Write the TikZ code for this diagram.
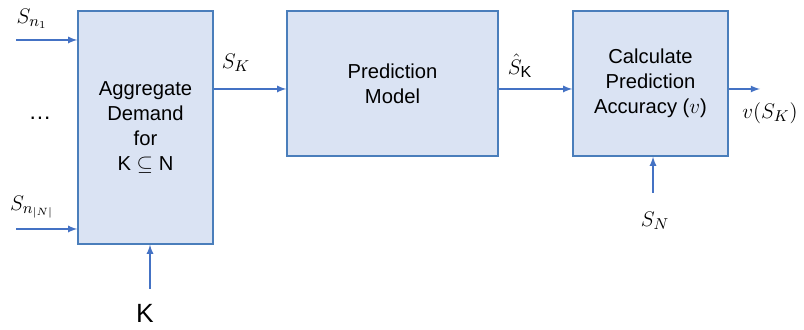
\documentclass[tikz,border=0pt]{standalone}
\usepackage{fontspec}
\setmainfont{Liberation Sans}
\usepackage{amsmath}
\usetikzlibrary{positioning}

\definecolor{boxfill}{HTML}{DAE3F3}
\definecolor{boxline}{HTML}{4A7EBB}
\definecolor{arrowline}{HTML}{4472C4}

\tikzset{
  block/.style={draw=boxline, fill=boxfill, line width=0.8pt, align=center,
    font=\fontsize{11.5}{14.2}\selectfont, inner sep=0pt},
  flow/.style={->, draw=arrowline, line width=0.8pt},
  lbl/.style={inner sep=0pt, font=\fontsize{13}{15}\selectfont}
}

\begin{document}
\begin{tikzpicture}[x=0.02cm,y=-0.02cm,>=latex]
    \useasboundingbox (0,0) rectangle (804,330);

    \node (agg) [block, minimum width=2.7cm, minimum height=4.66cm] at (145.5,127.5)
      {Aggregate\\Demand\\for\\K $\subseteq$ N};
    \node (pred) [block, minimum width=4.22cm, minimum height=2.9cm] at (392.5,83.5)
      {Prediction\\Model};
    \node (acc) [block, minimum width=3.1cm, minimum height=2.9cm] at (650.5,83.5)
      {Calculate\\Prediction\\Accuracy ($v$)};

    % free ends of the connectors
    \coordinate (in1) at (16,40);
    \coordinate (in2) at (16,229);
    \coordinate (kin) at (150,289);
    \coordinate (sin) at (653,193);
    \coordinate (out) at (760,89);

    \node (s1) [lbl] at (32,19) {$S_{n_1}$};
    \node (dots) [lbl] at (40,118) {\dots};
    \node (s2) [lbl] at (32,207) {$S_{n_{|N|}}$};
    \node (k) [lbl, font=\fontsize{15}{17}\selectfont] at (145,313) {K};
    \node (sk) [lbl] at (236,63) {$S_K$};
    \node (skhat) [lbl] at (520,66) {$\hat{S}_{\mathrm{K}}$};
    \node (vsk) [lbl] at (770,113) {$v(S_K)$};
    \node (sn) [lbl] at (655,221) {$S_N$};

    \draw[flow] (in1) -- (agg.west |- in1);
    \draw[flow] (in2) -- (agg.west |- in2);
    \draw[flow] (kin) -- (kin |- agg.south);
    \draw[flow] (agg.east |- out) -- (pred.west |- out);
    \draw[flow] (pred.east |- out) -- (acc.west |- out);
    \draw[flow] (acc.east |- out) -- (out);
    \draw[flow] (sin) -- (sin |- acc.south);
\end{tikzpicture}
\end{document}
